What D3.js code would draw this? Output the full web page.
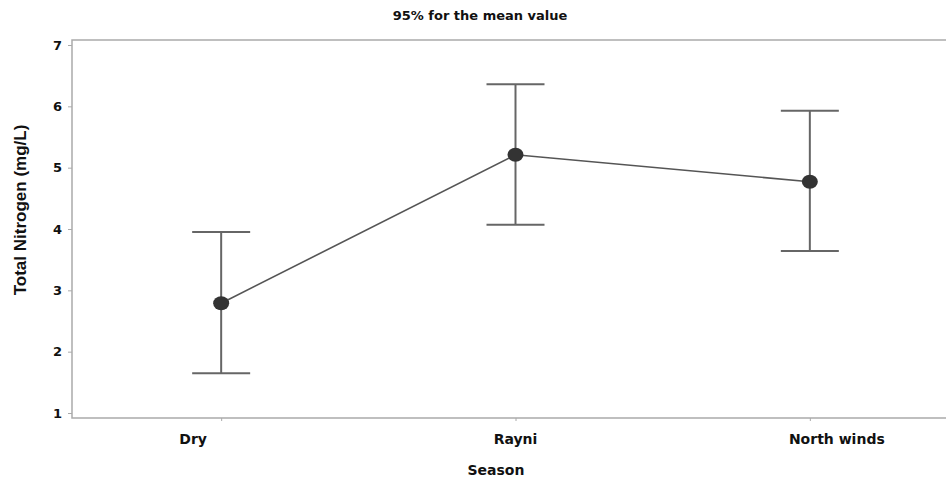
<!DOCTYPE html>
<html>
<head>
<meta charset="utf-8">
<script src="https://cdn.jsdelivr.net/npm/d3@7"></script>
<style>
  body { margin: 0; background: #fff; overflow: hidden; }
  text { font-family: "DejaVu Sans", sans-serif; font-weight: bold; }
</style>
</head>
<body>
<div id="chart"></div>
<script>
const seasons = ["Dry", "Rayni", "North winds"];
const means = [2.79, 5.21, 4.77];
const lower = [1.65, 4.07, 3.64];
const upper = [3.95, 6.36, 5.93];
const yTicks = [1, 2, 3, 4, 5, 6, 7];
// label offsets so the names sit where the reference puts them
const labelShift = [-28, 0, 27];

const width = 946, height = 480;
const plot = { left: 72, right: 955, top: 40, bottom: 418 };

const svg = d3.select("#chart").append("svg")
  .attr("width", width)
  .attr("height", height);

const x = d3.scalePoint()
  .domain(seasons)
  .range([plot.left + 2, plot.right + 2])
  .padding(0.5);

const y = d3.scaleLinear()
  .domain([1, 7])
  .range([413, 45]);

// frame: left, bottom and top lines (right side runs off the page)
svg.append("path")
  .attr("d", `M${width},${plot.top}H${plot.left}V${plot.bottom}H${width}`)
  .attr("fill", "none")
  .attr("stroke", "#aaa")
  .attr("stroke-width", 1.5);

// y axis
const yAxis = svg.append("g")
  .attr("transform", `translate(${plot.left},0)`)
  .call(d3.axisLeft(y).tickValues(yTicks).tickFormat(d3.format("d")).tickSize(4).tickPadding(6));
yAxis.select(".domain").remove();
yAxis.selectAll("line").attr("stroke", "#aaa");
yAxis.selectAll("text").style("font-size", "13px").attr("fill", "#111");

// x axis
const xAxis = svg.append("g")
  .attr("transform", `translate(0,${plot.bottom})`)
  .call(d3.axisBottom(x).tickSize(3).tickFormat(""));
xAxis.select(".domain").remove();
xAxis.selectAll("line").attr("stroke", "#aaa");

svg.append("g").selectAll("text")
  .data(seasons)
  .join("text")
  .attr("x", (d, i) => x(d) + labelShift[i])
  .attr("y", 444)
  .attr("text-anchor", "middle")
  .style("font-size", "14px")
  .attr("fill", "#111")
  .text(d => d);

// error bars
const bars = svg.append("g").selectAll("g")
  .data(seasons)
  .join("g")
  .attr("stroke", "#666")
  .attr("stroke-width", 2);

bars.append("line")
  .attr("x1", d => x(d)).attr("x2", d => x(d))
  .attr("y1", (d, i) => y(lower[i])).attr("y2", (d, i) => y(upper[i]));
bars.append("line")
  .attr("x1", d => x(d) - 29).attr("x2", d => x(d) + 29)
  .attr("y1", (d, i) => y(upper[i])).attr("y2", (d, i) => y(upper[i]));
bars.append("line")
  .attr("x1", d => x(d) - 29).attr("x2", d => x(d) + 29)
  .attr("y1", (d, i) => y(lower[i])).attr("y2", (d, i) => y(lower[i]));

// mean line
const line = d3.line()
  .x((d, i) => x(seasons[i]))
  .y(d => y(d));

svg.append("path")
  .datum(means)
  .attr("d", line)
  .attr("fill", "none")
  .attr("stroke", "#555")
  .attr("stroke-width", 1.6);

svg.append("g").selectAll("ellipse")
  .data(means)
  .join("ellipse")
  .attr("cx", (d, i) => x(seasons[i]))
  .attr("cy", d => y(d))
  .attr("rx", 8)
  .attr("ry", 7)
  .attr("fill", "#333");

// titles
svg.append("text")
  .attr("x", 480)
  .attr("y", 20)
  .attr("text-anchor", "middle")
  .style("font-size", "13px")
  .attr("fill", "#111")
  .text("95% for the mean value");

svg.append("text")
  .attr("x", 496)
  .attr("y", 475)
  .attr("text-anchor", "middle")
  .style("font-size", "14px")
  .attr("fill", "#111")
  .text("Season");

svg.append("text")
  .attr("transform", "translate(26,210) rotate(-90)")
  .attr("text-anchor", "middle")
  .style("font-family", "'Liberation Sans Narrow', sans-serif")
  .style("font-size", "17px")
  .attr("fill", "#111")
  .text("Total Nitrogen (mg/L)");
</script>
</body>
</html>
